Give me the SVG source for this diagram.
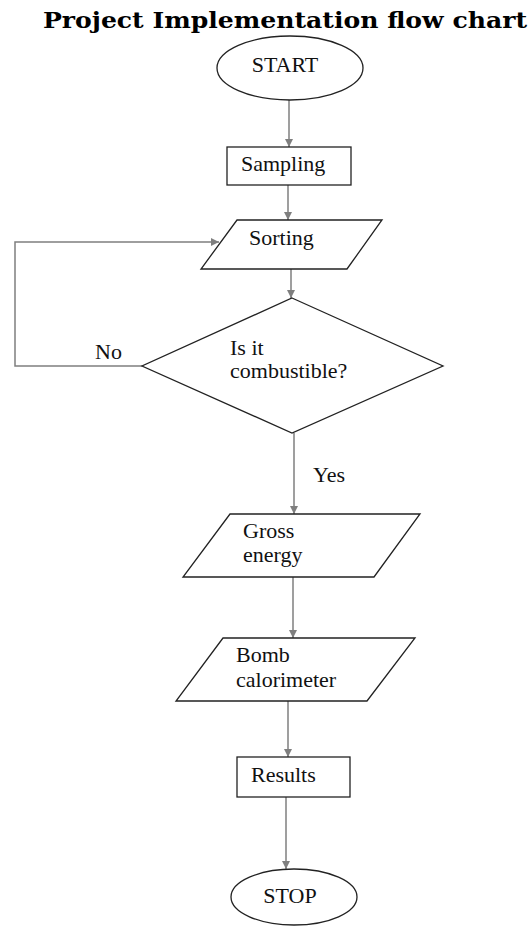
<svg xmlns="http://www.w3.org/2000/svg" width="532" height="927" viewBox="0 0 532 927">
<style>
.shape{fill:#fff;stroke:#222;stroke-width:1.3}
.t{font-family:'Liberation Serif', 'Tinos', 'Times New Roman', 'DejaVu Serif', serif;font-size:22px;fill:#111}
.title{font-family:'DejaVu Serif', serif;font-weight:bold;font-size:22px;fill:#000}
.c{fill:none;stroke:#7f7f7f;stroke-width:1.5}
</style>
<defs>
<marker id="ah" markerUnits="userSpaceOnUse" markerWidth="9" markerHeight="9" refX="8" refY="4" orient="auto">
<path d="M0,0 L8,4 L0,8 z" fill="#7f7f7f"/>
</marker>
</defs>
<rect width="532" height="927" fill="#fff"/>
<text class="title" x="43" y="28" textLength="484" lengthAdjust="spacingAndGlyphs">Project Implementation flow chart</text>
<g id="connectors">
<path class="c" d="M289,100 V147" marker-end="url(#ah)"/>
<path class="c" d="M288,185 V220" marker-end="url(#ah)"/>
<path class="c" d="M291,269 V298" marker-end="url(#ah)"/>
<path class="c" d="M142,366 H15 V242 H219" marker-end="url(#ah)"/>
<path class="c" d="M294,433 V514" marker-end="url(#ah)"/>
<path class="c" d="M293,577 V638" marker-end="url(#ah)"/>
<path class="c" d="M288,701 V757" marker-end="url(#ah)"/>
<path class="c" d="M286,797 V869" marker-end="url(#ah)"/>
<text class="t" x="95" y="359">No</text>
<text class="t" x="313" y="482">Yes</text>
</g>
<g id="start">
<ellipse class="shape" cx="290" cy="68" rx="73" ry="32"/>
<text class="t" x="285" y="72" text-anchor="middle">START</text>
</g>
<g id="sampling">
<rect class="shape" x="227" y="147" width="124" height="38"/>
<text class="t" x="241" y="171">Sampling</text>
</g>
<g id="sorting">
<polygon class="shape" points="237,220 382,220 347,269 201,269"/>
<text class="t" x="249" y="245">Sorting</text>
</g>
<g id="decision">
<polygon class="shape" points="292,298 443,366 292,433 142,366"/>
<text class="t" x="230" y="355">Is it</text>
<text class="t" x="230" y="378">combustible?</text>
</g>
<g id="gross">
<polygon class="shape" points="230,514 420,514 374,577 183,577"/>
<text class="t" x="243" y="538">Gross</text>
<text class="t" x="243" y="562">energy</text>
</g>
<g id="bomb">
<polygon class="shape" points="223,638 415,638 367,701 176,701"/>
<text class="t" x="236" y="662">Bomb</text>
<text class="t" x="236" y="687">calorimeter</text>
</g>
<g id="results">
<rect class="shape" x="237" y="757" width="113" height="40"/>
<text class="t" x="251" y="782">Results</text>
</g>
<g id="stop">
<ellipse class="shape" cx="294" cy="897" rx="63" ry="28"/>
<text class="t" x="290" y="903" text-anchor="middle">STOP</text>
</g>
</svg>
